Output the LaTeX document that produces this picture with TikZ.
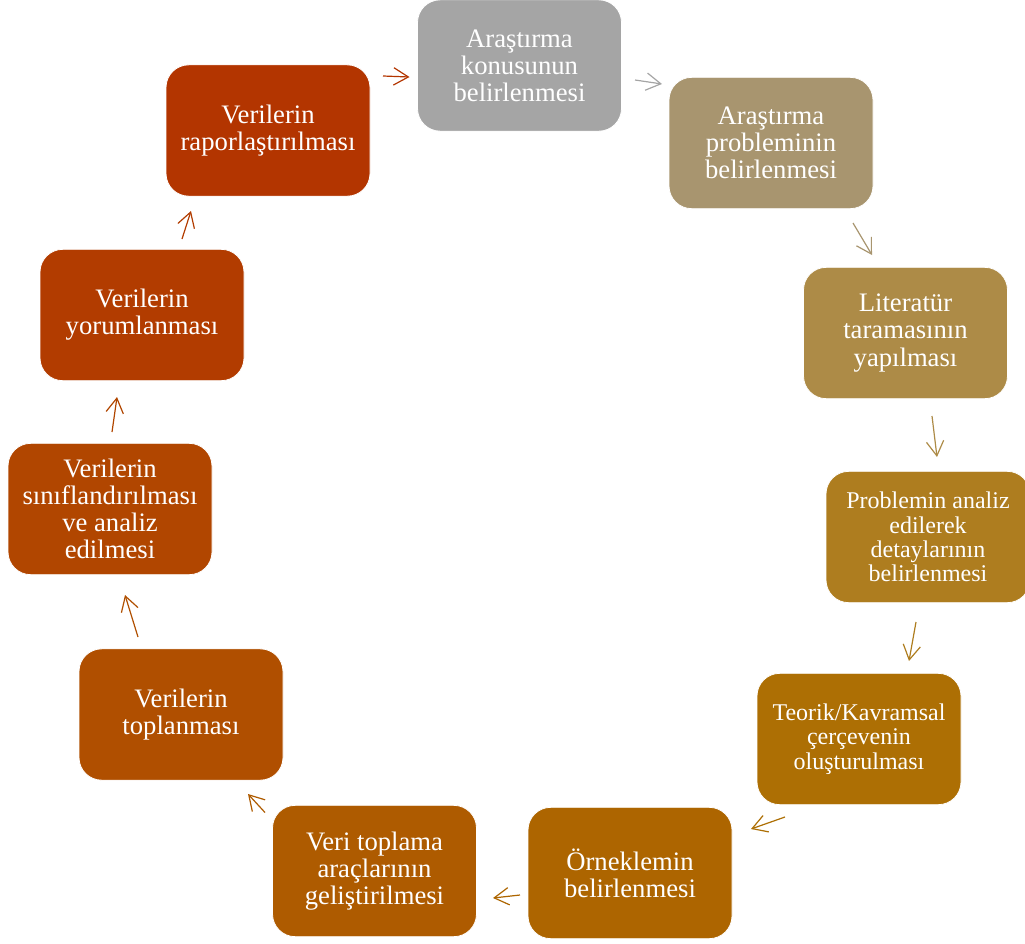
\documentclass[tikz,border=0pt]{standalone}
\usepackage{fontspec}
\setmainfont{Liberation Serif}
\usepackage{tikz}
\usetikzlibrary{arrows.meta}
\definecolor{ckonu}{HTML}{A5A5A5}
\definecolor{cproblem}{HTML}{A8956F}
\definecolor{cliteratur}{HTML}{AD8B47}
\definecolor{canaliz}{HTML}{AE7D1F}
\definecolor{ccerceve}{HTML}{AD6F04}
\definecolor{corneklem}{HTML}{AD6500}
\definecolor{carac}{HTML}{AE5B00}
\definecolor{ctoplama}{HTML}{B04F00}
\definecolor{csiniflama}{HTML}{B14600}
\definecolor{cyorum}{HTML}{B23C00}
\definecolor{crapor}{HTML}{B33500}
\tikzstyle{stage} = [draw=white, line width=0.6pt, rounded corners=17pt,
  minimum width=153pt, minimum height=98.5pt, inner sep=2pt, align=center,
  text=white, font=\fontsize{20}{20.3}\selectfont]
\tikzstyle{small} = [font=\fontsize{18}{18.3}\selectfont]
\tikzstyle{link} = [line width=0.9pt, -{Straight Barb[length=11pt,width=13pt]}]

\begin{document}
\begin{tikzpicture}[x=0.75pt, y=-0.75pt]
			\useasboundingbox (0,0) rectangle (1025,943);
			\node[stage, fill=ckonu] (konu) at (519.5,65.5) {Araştırma\\konusunun\\belirlenmesi};
			\node[stage, fill=cproblem] (problem) at (771,143) {Araştırma\\probleminin\\belirlenmesi};
			\node[stage, fill=cliteratur] (literatur) at (905.5,333) {Literatür\\taramasının\\yapılması};
			\node[stage, small, fill=canaliz] (analiz) at (928,537) {Problemin analiz\\edilerek\\detaylarının\\belirlenmesi};
			\node[stage, small, fill=ccerceve] (cerceve) at (859,739) {Teorik/Kavramsal\\çerçevenin\\oluşturulması};
			\node[stage, fill=corneklem] (orneklem) at (630,873) {Örneklemin\\belirlenmesi};
			\node[stage, fill=carac] (arac) at (374.5,871) {Veri toplama\\araçlarının\\geliştirilmesi};
			\node[stage, fill=ctoplama] (toplama) at (181,714.5) {Verilerin\\toplanması};
			\node[stage, fill=csiniflama] (siniflama) at (110,509) {Verilerin\\sınıflandırılması\\ve analiz\\edilmesi};
			\node[stage, fill=cyorum] (yorum) at (142,315) {Verilerin\\yorumlanması};
			\node[stage, fill=crapor] (rapor) at (268,130.5) {Verilerin\\raporlaştırılması};
			% short arrows round the cycle
			\draw[link, draw=crapor] ([shift={(115,-54.5)}]rapor.center) -- ([shift={(-110,11.5)}]konu.center);
			\draw[link, draw=ckonu] ([shift={(115.5,14.5)}]konu.center) -- ([shift={(-109,-59)}]problem.center);
			\draw[link, draw=cproblem] ([shift={(82,80)}]problem.center) -- ([shift={(-33.5,-78)}]literatur.center);
			\draw[link, draw=cliteratur] ([shift={(26.5,83)}]literatur.center) -- ([shift={(9,-80)}]analiz.center);
			\draw[link, draw=canaliz] ([shift={(-12,85)}]analiz.center) -- ([shift={(50,-78)}]cerceve.center);
			\draw[link, draw=ccerceve] ([shift={(-74,78)}]cerceve.center) -- ([shift={(121,-44)}]orneklem.center);
			\draw[link, draw=corneklem] ([shift={(-110,22)}]orneklem.center) -- ([shift={(118.5,27)}]arac.center);
			\draw[link, draw=carac] ([shift={(-109.5,-58.5)}]arac.center) -- ([shift={(67,79.5)}]toplama.center);
			\draw[link, draw=ctoplama] ([shift={(-43,-77.5)}]toplama.center) -- ([shift={(15,86)}]siniflama.center);
			\draw[link, draw=csiniflama] ([shift={(2,-77)}]siniflama.center) -- ([shift={(-25,82)}]yorum.center);
			\draw[link, draw=cyorum] ([shift={(40,-76)}]yorum.center) -- ([shift={(-77,80.5)}]rapor.center);
		\end{tikzpicture}
\end{document}
